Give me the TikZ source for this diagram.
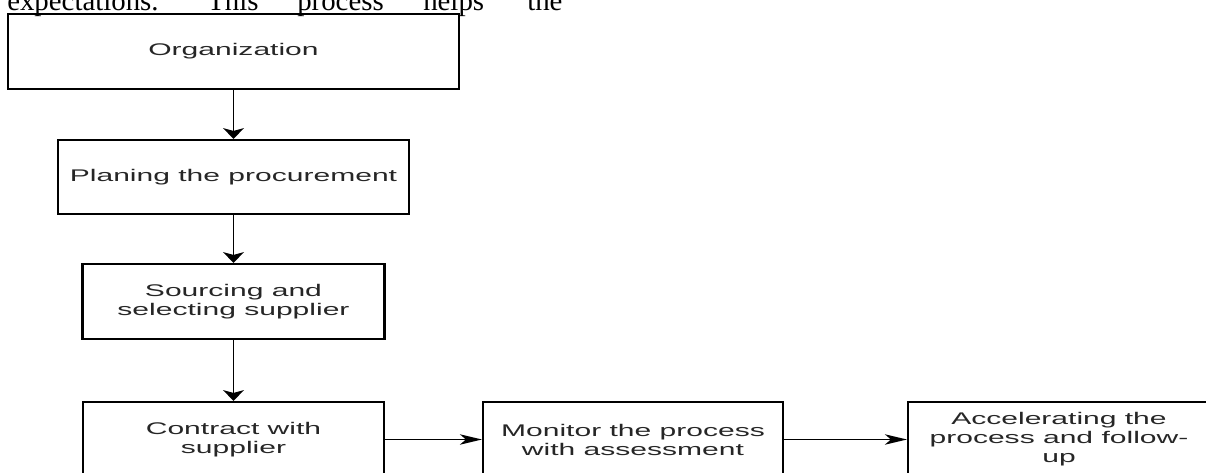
\documentclass[tikz,border=0pt]{standalone}
\usepackage{fontspec}
\usepackage{tikz}
\usetikzlibrary{arrows.meta}
\newfontfamily\flowfont[FakeStretch=1.78]{Liberation Sans}
\newfontfamily\pagefont{Liberation Serif}
\tikzset{
  stagebox/.style={draw, line width=1.5pt, minimum height=1.875cm, align=center,
    text=black!85, font=\flowfont\fontsize{12}{13.5}\selectfont},
  pageword/.style={anchor=base west, inner sep=0pt, font=\pagefont\fontsize{20.5}{24}\selectfont},
  vflow/.style={line width=1.3pt, -{Stealth[length=0.27cm,width=0.52cm,inset=0.07cm]}},
  hflow/.style={line width=1.1pt, -{Stealth[length=0.55cm,width=0.26cm,inset=0.15cm]}}
}
\begin{document}
\begin{tikzpicture}[x=0.025cm,y=0.025cm]
\clip[use as bounding box] (0,0) rectangle (1206,473);
% line of the page above
\node[pageword] (w1) at (7,462) {expectations.};
\node[pageword] (w2) at (207,462) {This};
\node[pageword] (w3) at (297,462) {process};
\node[pageword] (w4) at (423,462) {helps};
\node[pageword] (w5) at (527,462) {the};
% the column
\node[stagebox, minimum width=11.275cm] (org) at (233.5,421.5) {Organization};
\node[stagebox, minimum width=8.775cm, minimum height=1.85cm] (plan) at (233.5,296) {Planing the procurement};
\node[stagebox, minimum width=7.55cm] (source) at (233.5,171.5) {Sourcing and\\selecting supplier};
\node[stagebox, minimum width=7.525cm] (contract) at (233.5,33.5) {Contract with\\supplier};
\draw[vflow] (org) -- (plan);
\draw[vflow] (plan) -- (source);
\draw[vflow] (source) -- (contract);
% the row
\node[stagebox, minimum width=7.5cm] (monitor) at (633,33.5) {Monitor the process\\with assessment};
\node[stagebox, minimum width=7.55cm] (accel) at (1059,33.5) {Accelerating the\\process and follow-\\up};
\draw[hflow] (contract) -- (monitor);
\draw[hflow] (monitor) -- (accel);
\end{tikzpicture}
\end{document}
